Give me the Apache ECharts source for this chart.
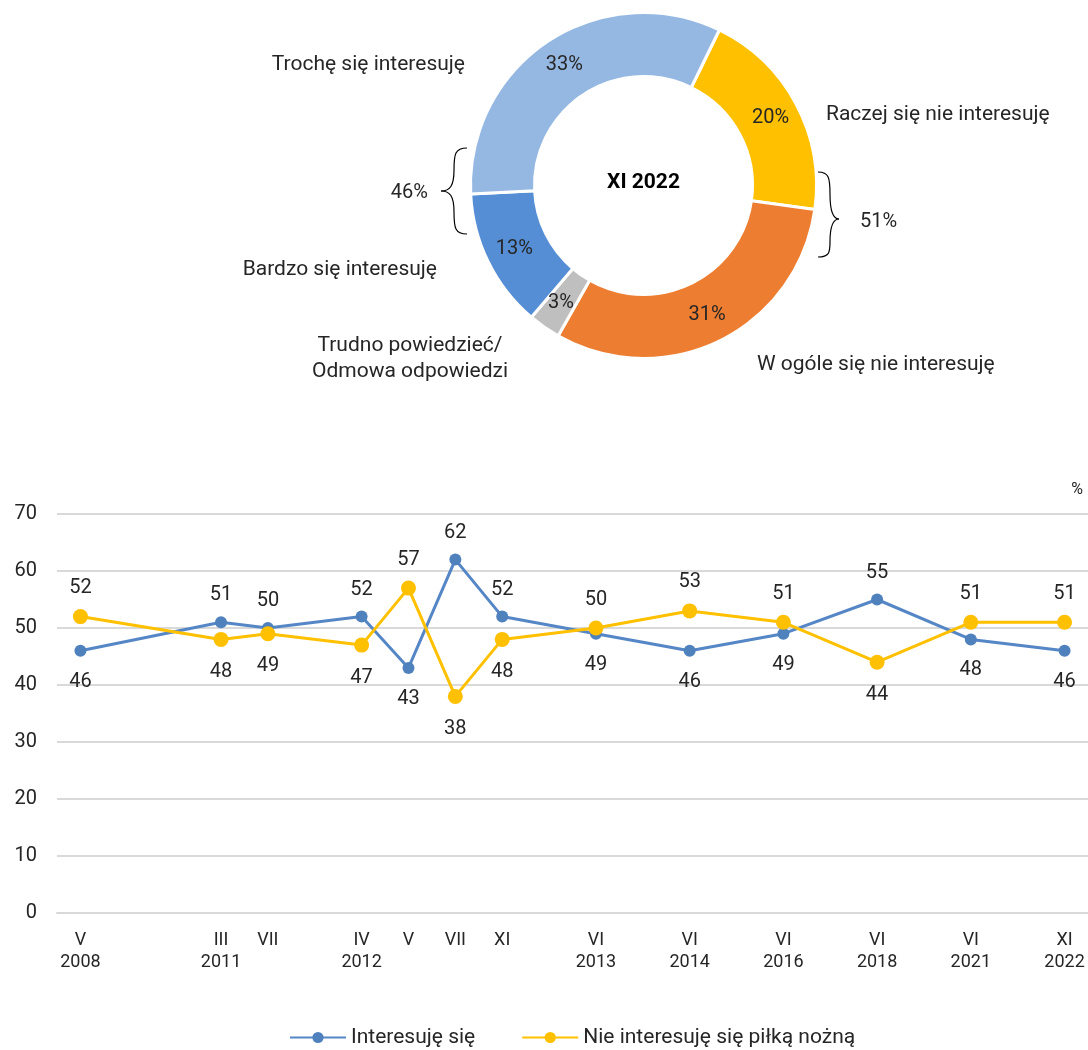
<!DOCTYPE html>
<html>
<head>
<meta charset="utf-8">
<script src="https://cdn.jsdelivr.net/npm/echarts@6/dist/echarts.min.js"></script>
<style>
  html, body { margin: 0; padding: 0; background: #fff; }
  #chart { width: 1088px; height: 1050px; }
</style>
</head>
<body>
<div id="chart"></div>
<script>
// donut: XI 2022
const pieNames = [
  "Raczej się nie interesuję",
  "W ogóle się nie interesuję",
  "Trudno powiedzieć/\nOdmowa odpowiedzi",
  "Bardzo się interesuję",
  "Trochę się interesuję"
];
const pieValues = [20, 31, 3, 13, 33];
const pieColors = ["#FFC000", "#ED7D31", "#BFBFBF", "#558ED5", "#95B8E3"];
const pieTitle = "XI 2022";
const groupTotals = ["46%", "51%"];

// line chart
const categories = [
  "V\n2008", "", "", "III\n2011", "VII", "", "IV\n2012", "V", "VII", "XI", "",
  "VI\n2013", "", "VI\n2014", "", "VI\n2016", "", "VI\n2018", "", "VI\n2021", "", "XI\n2022"
];
const interested = [46, null, null, 51, 50, null, 52, 43, 62, 52, null, 49, null, 46, null, 49, null, 55, null, 48, null, 46];
const notInterested = [52, null, null, 48, 49, null, 47, 57, 38, 48, null, 50, null, 53, null, 51, null, 44, null, 51, null, 51];
const seriesNames = ["Interesuję się", "Nie interesuję się piłką nożną"];

const font = "Roboto";
const textColor = "#262626";

function withLabels(values, other) {
  return values.map((v, i) => {
    if (v == null) return null;
    const up = v >= other[i];
    return { value: v, label: { position: up ? "top" : "bottom", distance: up ? 11 : 15 } };
  });
}

// positions of the donut's outside texts (layout only)
const nameSpots = [
  { x: 826, y: 115, align: "left" },
  { x: 757, y: 365, align: "left" },
  { x: 410, y: 359, align: "center" },
  { x: 437, y: 270, align: "right" },
  { x: 465, y: 65, align: "right" }
];

const graphic = pieNames.map((name, i) => ({
  type: "text",
  x: nameSpots[i].x,
  y: nameSpots[i].y,
  style: {
    text: name,
    font: "21px " + font,
    fill: textColor,
    align: nameSpots[i].align,
    verticalAlign: "middle",
    lineHeight: 26
  }
}));

function brace(pts) {
  return pts.map(p => ({
    type: "bezierCurve",
    shape: { x1: p[0], y1: p[1], cpx1: p[2], cpy1: p[3], cpx2: p[4], cpy2: p[5], x2: p[6], y2: p[7] },
    style: { fill: null, stroke: "#000", lineWidth: 1.2 }
  }));
}

graphic.push(
  ...brace([
    [467, 148, 455, 148, 454, 154, 454, 170],
    [454, 170, 454, 186, 450, 191, 441, 191],
    [441, 191, 450, 191, 454, 196, 454, 212],
    [454, 212, 454, 228, 455, 234, 467, 234]
  ]),
  ...brace([
    [818, 172, 829, 172, 830, 178, 830, 194],
    [830, 194, 830, 212, 833, 219, 839, 219],
    [839, 219, 833, 219, 830, 226, 830, 242],
    [830, 242, 830, 253, 829, 257, 818, 257]
  ]),
  {
    type: "text", x: 428, y: 193,
    style: { text: groupTotals[0], font: "20px " + font, fill: textColor, align: "right", verticalAlign: "middle" }
  },
  {
    type: "text", x: 860, y: 222,
    style: { text: groupTotals[1], font: "20px " + font, fill: textColor, align: "left", verticalAlign: "middle" }
  },
  {
    type: "text", x: 643.5, y: 183,
    style: { text: pieTitle, font: "bold 21px " + font, fill: "#000", align: "center", verticalAlign: "middle" }
  },
  {
    type: "text", x: 1083, y: 490,
    style: { text: "%", font: "16px " + font, fill: textColor, align: "right", verticalAlign: "middle" }
  }
);

const chart = echarts.init(document.getElementById("chart"), null, { renderer: "canvas" });

chart.setOption({
  animation: false,
  textStyle: { fontFamily: font },
  graphic: graphic,
  legend: {
    data: seriesNames,
    top: 1022,
    left: 284,
    itemWidth: 56,
    itemHeight: 14,
    itemGap: 46,
    textStyle: { fontSize: 21, color: textColor, fontFamily: font }
  },
  grid: { left: 57, right: 0, top: 514, bottom: 137 },
  xAxis: {
    type: "category",
    data: categories,
    boundaryGap: true,
    axisLine: { lineStyle: { color: "#d9d9d9", width: 2 } },
    axisTick: { show: false },
    axisLabel: {
      interval: 0,
      fontSize: 18,
      lineHeight: 22,
      color: textColor,
      margin: 16,
      fontFamily: font
    }
  },
  yAxis: {
    type: "value",
    min: 0,
    max: 70,
    interval: 10,
    axisLine: { show: false },
    axisTick: { show: false },
    splitLine: { lineStyle: { color: "#d9d9d9", width: 2 } },
    axisLabel: { fontSize: 20, color: textColor, margin: 20, fontFamily: font }
  },
  series: [
    {
      type: "pie",
      center: [643.5, 185.5],
      radius: [109, 173],
      startAngle: 64,
      clockwise: true,
      avoidLabelOverlap: false,
      silent: true,
      data: pieValues.map((v, i) => ({
        value: v,
        name: pieNames[i],
        itemStyle: { color: pieColors[i] }
      })),
      itemStyle: { borderColor: "#fff", borderWidth: 3 },
      label: {
        position: "inside",
        formatter: "{c}%",
        fontSize: 20,
        color: textColor,
        fontFamily: font
      },
      labelLine: { show: false }
    },
    {
      name: seriesNames[0],
      type: "line",
      data: withLabels(interested, notInterested),
      connectNulls: true,
      symbol: "circle",
      symbolSize: 12,
      color: "#4F81BD",
      lineStyle: { width: 3, color: "#5586C6" },
      itemStyle: { color: "#4F81BD" },
      label: { show: true, fontSize: 20, color: textColor, fontFamily: font }
    },
    {
      name: seriesNames[1],
      type: "line",
      data: withLabels(notInterested, interested),
      connectNulls: true,
      symbol: "circle",
      symbolSize: 15,
      color: "#FFC000",
      lineStyle: { width: 3, color: "#FFC000" },
      itemStyle: { color: "#FFC000" },
      label: { show: true, fontSize: 20, color: textColor, fontFamily: font }
    }
  ]
});
</script>
</body>
</html>
